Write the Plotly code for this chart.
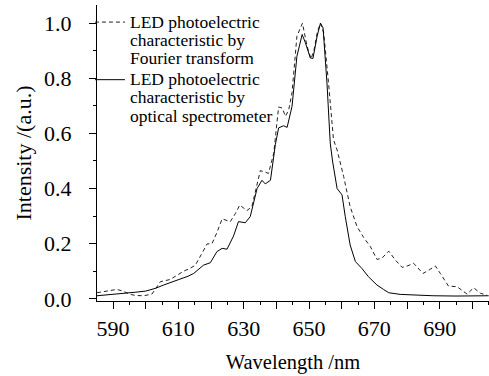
import plotly.graph_objects as go

# Solid: optical spectrometer
wl_spec = [585.1, 588, 591, 594, 597, 600, 603, 605.5, 608, 610.6, 613, 614.7, 616, 617.7,
           619.8, 621.8, 623.4, 624.9, 626.9, 628.4, 630.5, 632, 634.1, 635.6, 636.6, 638.2,
           639.7, 640.7, 642.2, 643.3, 644.8, 646.3, 647.9, 648.9, 650.4, 651.2, 652.5, 653.5,
           654.3, 655.5, 656.5, 657.2, 658.6, 660.1, 661.1, 662.6, 664.2, 666.2, 668.2, 670.8,
           672.8, 674.4, 677.9, 683, 688, 695, 700, 705]
int_spec = [0.011, 0.014, 0.016, 0.020, 0.024, 0.028, 0.038, 0.050, 0.060, 0.070, 0.082, 0.092,
            0.105, 0.122, 0.131, 0.171, 0.183, 0.180, 0.228, 0.280, 0.276, 0.298, 0.400, 0.430,
            0.417, 0.430, 0.560, 0.620, 0.628, 0.622, 0.698, 0.880, 0.959, 0.929, 0.874, 0.872,
            0.953, 1.000, 0.983, 0.783, 0.565, 0.500, 0.400, 0.377, 0.298, 0.195, 0.135, 0.110,
            0.080, 0.050, 0.034, 0.022, 0.016, 0.013, 0.011, 0.010, 0.011, 0.011]

# Dashed: Fourier transform
wl_ft = [585.1, 587, 589, 591.2, 593, 595.3, 597, 599.4, 601.9, 603, 604.5, 607.5, 609.5, 611.6,
         613.5, 615.2, 617, 618.8, 620.3, 621.8, 623.4, 624.8, 625.9, 627.5, 628.8, 631, 632.5,
         633.8, 635.1, 636.5, 637.6, 639.2, 640.7, 641.8, 642.8, 643.8, 644.8, 646.3, 648.0,
         649.4, 650.6, 651.5, 652.5, 653.5, 654.5, 656.0, 657.5, 658.6, 660.6, 662.6, 664.7,
         666.7, 668.8, 670.8, 672.3, 674.4, 676.4, 678.5, 680.3, 682.0, 683.5, 684.9, 686.8,
         688.7, 690.2, 692.7, 695.3, 698.4, 700.4, 702.5, 704.5]
int_ft = [0.022, 0.026, 0.030, 0.034, 0.028, 0.016, 0.012, 0.011, 0.017, 0.035, 0.062, 0.070,
          0.085, 0.100, 0.110, 0.122, 0.160, 0.199, 0.200, 0.240, 0.290, 0.285, 0.280, 0.310,
          0.340, 0.320, 0.334, 0.400, 0.465, 0.460, 0.455, 0.528, 0.696, 0.692, 0.662, 0.686,
          0.748, 0.953, 1.000, 0.916, 0.871, 0.900, 0.965, 1.000, 0.965, 0.780, 0.577, 0.540,
          0.444, 0.334, 0.262, 0.223, 0.189, 0.143, 0.147, 0.173, 0.141, 0.114, 0.120, 0.129,
          0.110, 0.092, 0.105, 0.119, 0.092, 0.046, 0.044, 0.017, 0.040, 0.020, 0.013]

x_tickvals = [590, 600, 610, 620, 630, 640, 650, 660, 670, 680, 690, 700]
x_ticktext = ["590", "", "610", "", "630", "", "650", "", "670", "", "690", ""]
y_tickvals = [0.0, 0.2, 0.4, 0.6, 0.8, 1.0]
y_ticktext = ["0.0", "0.2", "0.4", "0.6", "0.8", "1.0"]

legend_ft = ["LED photoelectric", "characteristic by", "Fourier transform"]
legend_spec = ["LED photoelectric", "characteristic by", "optical spectrometer"]

serif = "Liberation Serif, Times New Roman, serif"


def legend_label(lines):
    return "<br>".join(f"<span style='font-size:17.5px'>{s}</span>" for s in lines)


fig = go.Figure()
fig.add_trace(go.Scatter(
    x=wl_ft, y=int_ft, mode="lines",
    name=legend_label(legend_ft),
    line=dict(color="#222222", width=1, dash="4px,3px"),
))
fig.add_trace(go.Scatter(
    x=wl_spec, y=int_spec, mode="lines",
    name=legend_label(legend_spec),
    line=dict(color="#000000", width=1),
))

fig.update_layout(
    width=489, height=376,
    margin=dict(l=97, r=0, t=5, b=75),
    paper_bgcolor="white", plot_bgcolor="white",
    font=dict(family=serif, color="black", size=22),
    showlegend=True,
    legend=dict(
        x=-0.018, y=0.995, xanchor="left", yanchor="top",
        valign="top", bgcolor="rgba(0,0,0,0)",
        font=dict(family=serif, size=14, color="black"),
        itemwidth=30, tracegroupgap=0,
    ),
    xaxis=dict(
        range=[585.1, 705.1], showgrid=False, zeroline=False,
        showline=True, linecolor="black", linewidth=1, mirror=False,
        tickmode="array", tickvals=x_tickvals, ticktext=x_ticktext,
        ticks="outside", ticklen=7, tickcolor="black", tickwidth=1,
        ticklabelstandoff=1,
        tickfont=dict(family=serif, size=22),
        minor=dict(tickmode="linear", tick0=585, dtick=5, ticks="outside",
                   ticklen=3, tickcolor="black", tickwidth=1, showgrid=False),
        title=dict(text="Wavelength /nm", font=dict(family=serif, size=20.5), standoff=14),
    ),
    yaxis=dict(
        range=[-0.008, 1.066], showgrid=False, zeroline=False,
        showline=True, linecolor="black", linewidth=1, mirror=False,
        tickmode="array", tickvals=y_tickvals, ticktext=y_ticktext,
        ticks="outside", ticklen=7, tickcolor="black", tickwidth=1,
        ticklabelstandoff=13,
        tickfont=dict(family=serif, size=22),
        minor=dict(tickmode="linear", tick0=0, dtick=0.1, ticks="outside",
                   ticklen=3, tickcolor="black", tickwidth=1, showgrid=False),
        title=dict(text="Intensity /(a.u.)", font=dict(family=serif, size=22), standoff=6),
    ),
)

fig.write_html("out.html")
